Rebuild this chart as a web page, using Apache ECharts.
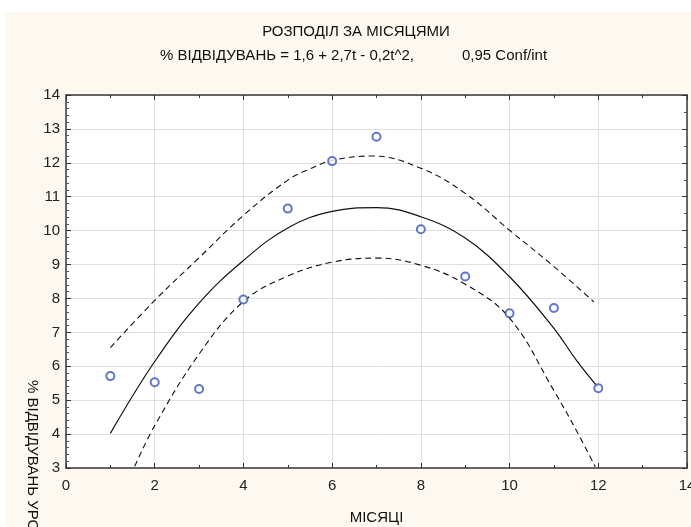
<!DOCTYPE html>
<html>
<head>
<meta charset="utf-8">
<script src="https://cdn.jsdelivr.net/npm/echarts@6/dist/echarts.min.js"></script>
<style>
html,body{margin:0;padding:0;background:#ffffff;}
#chart{width:691px;height:527px;}
</style>
</head>
<body>
<div id="chart"></div>
<script>
// Observed points
var months = [1, 2, 3, 4, 5, 6, 7, 8, 9, 10, 11, 12];
var visits = [5.71, 5.53, 5.33, 7.97, 10.65, 12.05, 12.77, 10.04, 8.65, 7.56, 7.72, 5.35];

// Fitted curve
var fitT = [1, 2, 3, 4, 5, 6, 7, 8, 9, 10, 11, 11.5, 12];
var fitV = [4.02, 6.14, 7.86, 9.12, 10.08, 10.57, 10.68, 10.41, 9.78, 8.64, 7.12, 6.19, 5.37];

// Upper 0.95 confidence band
var upT = [1, 2, 3, 4, 5, 5.5, 6, 6.9, 8, 9, 10, 11, 11.9];
var upV = [6.55, 7.94, 9.2, 10.45, 11.49, 11.82, 12.07, 12.2, 11.84, 11.1, 10.01, 8.94, 7.9];

// Lower 0.95 confidence band
var loT = [1.55, 2, 3, 4, 5, 6, 7, 8, 9, 10, 11, 11.5, 11.93];
var loV = [3.05, 4.25, 6.36, 7.91, 8.66, 9.07, 9.19, 8.98, 8.42, 7.42, 5.28, 4.12, 3.04];

var xTicks = [0, 2, 4, 6, 8, 10, 12, 14];
var yTicks = [3, 4, 5, 6, 7, 8, 9, 10, 11, 12, 13, 14];

var titleText = 'РОЗПОДІЛ ЗА МІСЯЦЯМИ';
var subLeft = '% ВІДВІДУВАНЬ = 1,6 + 2,7t - 0,2t^2,';
var subRight = '0,95 Conf/int';
var xName = 'МІСЯЦІ';
var yName = '% ВІДВІДУВАНЬ УРОКІВ';

function pairs(a, b) { return a.map(function (v, i) { return [v, b[i]]; }); }

var FONT = '"Liberation Sans", Arial, sans-serif';
var axisLineStyle = { color: '#3a3a3a', width: 1.5 };

var chart = echarts.init(document.getElementById('chart'), null, { renderer: 'canvas' });
chart.setOption({
  backgroundColor: 'transparent',
  animation: false,
  graphic: [
    { type: 'rect', z: -10, silent: true, shape: { x: 5, y: 12, width: 700, height: 530 }, style: { fill: '#fdf8f0' } },
    { type: 'text', x: 356, y: 32, style: { text: titleText, font: '15px ' + FONT, fill: '#111', textAlign: 'center', textVerticalAlign: 'middle' } },
    { type: 'text', x: 160, y: 56, style: { text: subLeft, font: '15px ' + FONT, fill: '#111', textAlign: 'left', textVerticalAlign: 'middle' } },
    { type: 'text', x: 462, y: 56, style: { text: subRight, font: '15px ' + FONT, fill: '#111', textAlign: 'left', textVerticalAlign: 'middle' } },
    { type: 'text', x: 32, y: 380, rotation: -Math.PI / 2, style: { text: yName, font: '15px ' + FONT, fill: '#111', textAlign: 'left', textVerticalAlign: 'middle' } }
  ],
  grid: { left: 66, right: 4, top: 95, bottom: 59, show: true, backgroundColor: '#ffffff', borderWidth: 0, outerBoundsMode: 'none', containLabel: false },
  xAxis: [
    {
      type: 'value', min: xTicks[0], max: xTicks[xTicks.length - 1], interval: 2,
      position: 'bottom',
      name: xName, nameLocation: 'middle', nameGap: 42,
      nameTextStyle: { fontFamily: FONT, fontSize: 15, color: '#111' },
      axisLine: { show: true, onZero: false, lineStyle: axisLineStyle },
      axisTick: { show: true, inside: true, length: 5, lineStyle: { color: '#333' } },
      minorTick: { show: true, splitNumber: 2, length: 3, lineStyle: { color: '#333' } },
      axisLabel: { fontFamily: FONT, fontSize: 15, color: '#222', margin: 10 },
      splitLine: { show: true, lineStyle: { color: '#dedede', width: 1 } }
    },
    {
      type: 'value', min: xTicks[0], max: xTicks[xTicks.length - 1], interval: 2,
      position: 'top',
      axisLine: { show: true, onZero: false, lineStyle: axisLineStyle },
      axisTick: { show: true, inside: true, length: 5, lineStyle: { color: '#333' } },
      minorTick: { show: true, splitNumber: 2, length: 3, lineStyle: { color: '#333' } },
      axisLabel: { show: false },
      splitLine: { show: false }
    }
  ],
  yAxis: [
    {
      type: 'value', min: yTicks[0], max: yTicks[yTicks.length - 1], interval: 1,
      position: 'left',
      axisLine: { show: true, onZero: false, lineStyle: axisLineStyle },
      axisTick: { show: true, inside: true, length: 5, lineStyle: { color: '#333' } },
      minorTick: { show: true, splitNumber: 5, length: 3, lineStyle: { color: '#555' } },
      axisLabel: { fontFamily: FONT, fontSize: 15, color: '#222', margin: 6 },
      splitLine: { show: true, lineStyle: { color: '#dedede', width: 1 } }
    },
    {
      type: 'value', min: yTicks[0], max: yTicks[yTicks.length - 1], interval: 1,
      position: 'right',
      axisLine: { show: true, onZero: false, lineStyle: axisLineStyle },
      axisTick: { show: true, inside: true, length: 5, lineStyle: { color: '#333' } },
      minorTick: { show: true, splitNumber: 2, length: 3, lineStyle: { color: '#555' } },
      axisLabel: { show: false },
      splitLine: { show: false }
    }
  ],
  series: [
    {
      type: 'line', data: pairs(upT, upV), smooth: 0.4, symbol: 'none',
      lineStyle: { color: '#111', width: 1.1, type: [6, 4] }, z: 3
    },
    {
      type: 'line', data: pairs(loT, loV), smooth: 0.4, symbol: 'none',
      lineStyle: { color: '#111', width: 1.1, type: [6, 4] }, z: 3
    },
    {
      type: 'line', data: pairs(fitT, fitV), smooth: 0.4, symbol: 'none',
      lineStyle: { color: '#111', width: 1.2 }, z: 3
    },
    {
      type: 'scatter', data: pairs(months, visits), symbol: 'emptyCircle', symbolSize: 8,
      itemStyle: { color: '#3a56b8', borderColor: '#3a56b8', borderWidth: 1.3 }, z: 5
    }
  ]
});
</script>
</body>
</html>
